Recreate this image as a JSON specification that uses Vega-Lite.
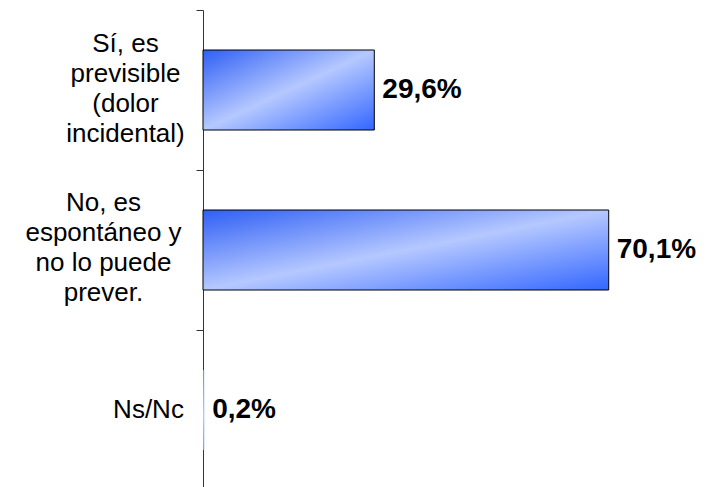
{
  "$schema": "https://vega.github.io/schema/vega-lite/v6.json",
  "width": 463,
  "height": 480,
  "autosize": "none",
  "padding": {"left": 203, "top": 10, "right": 45, "bottom": 0},
  "background": "white",
  "config": {
    "view": {"stroke": null},
    "axis": {
      "labelFont": "Liberation Sans",
      "labelFontSize": 26,
      "labelColor": "black",
      "labelLineHeight": 30,
      "labelAlign": "center",
      "labelBaseline": "middle",
      "labelLimit": 0,
      "tickSize": 7,
      "grid": false
    }
  },
  "data": {
    "values": [
      {"cat": "Sí, es|previsible|(dolor|incidental)", "pct": 29.6, "lbl": "29,6%"},
      {"cat": "No, es|espontáneo y|no lo puede|prever.", "pct": 70.1, "lbl": "70,1%"},
      {"cat": "Ns/Nc", "pct": 0.2, "lbl": "0,2%"}
    ]
  },
  "resolve": {"axis": {"y": "independent"}},
  "layer": [
    {
      "mark": {
        "type": "bar",
        "height": {"band": 0.5},
        "stroke": "black",
        "fill": {
          "gradient": "linear",
          "x1": 0, "y1": 0, "x2": 1, "y2": 1,
          "stops": [
            {"offset": 0, "color": "#2f5ff5"},
            {"offset": 0.5, "color": "#b5c8ff"},
            {"offset": 1, "color": "#3366ff"}
          ]
        }
      },
      "encoding": {
        "y": {
          "field": "cat",
          "type": "nominal",
          "sort": null,
          "scale": {
            "domain": ["Sí, es|previsible|(dolor|incidental)", "No, es|espontáneo y|no lo puede|prever.", "Ns/Nc"],
            "paddingInner": 0,
            "paddingOuter": 0
          },
          "axis": {
            "orient": "left",
            "title": null,
            "labelExpr": "indexof(datum.value || '', 'Sí, es') == 0 ? split(datum.value, '|') : ''",
            "labelPadding": 71,
            "labelOffset": -47,
            "tickBand": "extent",
            "tickColor": "#333333",
            "domainColor": "#333333"
          }
        },
        "x": {"field": "pct", "type": "quantitative", "scale": {"domain": [0, 80]}, "axis": null},
        "strokeWidth": {"condition": {"test": "datum.pct < 1", "value": 0}, "value": 1}
      }
    },
    {
      "transform": [{"filter": "datum.cat != 'Ns/Nc'"}],
      "mark": {
        "type": "text",
        "align": "left",
        "baseline": "middle",
        "dx": 8,
        "font": "Liberation Sans",
        "fontWeight": "bold",
        "fontSize": 28,
        "color": "black"
      },
      "encoding": {
        "y": {
          "field": "cat",
          "type": "nominal",
          "sort": null,
          "axis": {
            "orient": "left",
            "title": null,
            "labelExpr": "indexof(datum.value || '', 'No, es') == 0 ? split(datum.value, '|') : ''",
            "labelPadding": 93,
            "labelOffset": -47,
            "ticks": true,
            "tickOpacity": 0,
            "domain": false
          }
        },
        "x": {"field": "pct", "type": "quantitative", "axis": null},
        "text": {"field": "lbl"}
      }
    },
    {
      "transform": [{"filter": "datum.cat == 'Ns/Nc'"}],
      "mark": {
        "type": "text",
        "align": "left",
        "baseline": "middle",
        "dx": 8,
        "font": "Liberation Sans",
        "fontWeight": "bold",
        "fontSize": 28,
        "color": "black"
      },
      "encoding": {
        "y": {
          "field": "cat",
          "type": "nominal",
          "sort": null,
          "axis": {
            "orient": "left",
            "title": null,
            "labelExpr": "datum.value == 'Ns/Nc' ? datum.value : ''",
            "labelPadding": 48,
            "labelOffset": 0,
            "ticks": true,
            "tickOpacity": 0,
            "domain": false
          }
        },
        "x": {"field": "pct", "type": "quantitative", "axis": null},
        "text": {"field": "lbl"}
      }
    }
  ]
}
